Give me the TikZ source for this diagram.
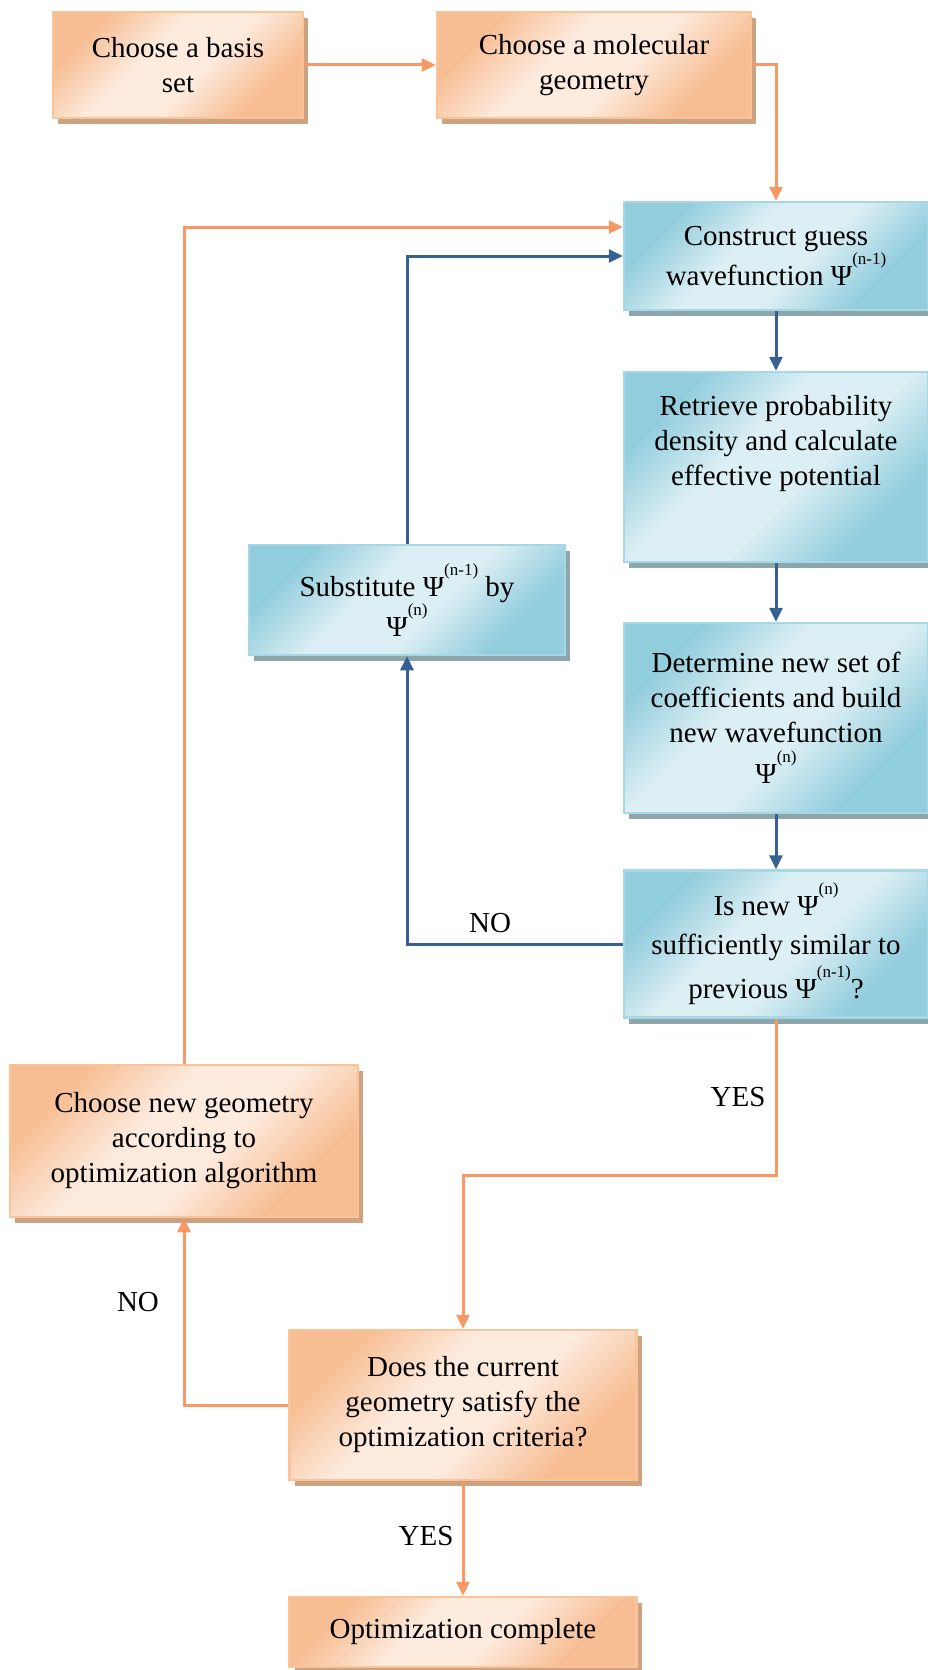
\documentclass[tikz,border=0pt]{standalone}
\usepackage{fontspec}
\setmainfont{Liberation Serif}
\usetikzlibrary{arrows.meta, positioning, shadows}

\definecolor{otop}{RGB}{247,190,148}
\definecolor{omid}{RGB}{253,235,222}
\definecolor{oedge}{RGB}{250,196,152}
\definecolor{oshade}{RGB}{204,162,128}
\definecolor{btop}{RGB}{146,205,221}
\definecolor{bmid}{RGB}{220,239,244}
\definecolor{bedge}{RGB}{165,215,228}
\definecolor{bshade}{RGB}{140,166,172}
\definecolor{oline}{RGB}{249,152,100}
\definecolor{bline}{RGB}{54,96,146}

% soft diagonal wash for the boxes
\pgfdeclareverticalshading{owash}{100bp}{color(0bp)=(otop); color(28bp)=(otop); color(44bp)=(omid); color(58bp)=(omid); color(74bp)=(otop); color(100bp)=(otop)}
\pgfdeclareverticalshading{bwash}{100bp}{color(0bp)=(btop); color(28bp)=(btop); color(44bp)=(bmid); color(58bp)=(bmid); color(74bp)=(btop); color(100bp)=(btop)}

% wavefunction with raised superscript
\newcommand{\wfn}[1]{Ψ\raisebox{0.72em}{\fontsize{17}{17}\selectfont(#1)}}

\begin{document}
\begin{tikzpicture}[
    x=1pt, y=-1pt,
    obox/.style={draw=oedge, line width=2.5pt, shading=owash, shading angle=45,
        drop shadow={shadow xshift=5pt, shadow yshift=-6pt, fill=oshade, opacity=1},
        align=center, inner sep=0pt, font=\fontsize{29}{35}\selectfont},
    bbox/.style={draw=bedge, line width=2.5pt, shading=bwash, shading angle=45,
        drop shadow={shadow xshift=5pt, shadow yshift=-6pt, fill=bshade, opacity=1},
        align=center, inner sep=0pt, font=\fontsize{29}{35}\selectfont},
    oarr/.style={-{Triangle[length=14pt, width=13pt]}, line width=3pt, draw=oline},
    barr/.style={-{Triangle[length=14pt, width=13pt]}, line width=3pt, draw=bline},
    lbl/.style={font=\fontsize{29}{35}\selectfont},
]
\useasboundingbox (0,0) rectangle (928,1670);

% Setup (top row)
\node[obox, minimum width=250pt, minimum height=106pt] (basis) at (178,65) {Choose a basis\\set};
\node[obox, minimum width=314pt, minimum height=106pt] (molec) at (594,65) {Choose a molecular\\geometry};

% SCF loop (right column)
\node[bbox, minimum width=304pt, minimum height=108pt] (construct) at (776,256) {Construct guess\\wavefunction \wfn{n-1}};
\node[bbox, minimum width=304pt, minimum height=190pt] (retrieve) at (776,467) {Retrieve probability\\density and calculate\\effective potential\\[18pt]};
\node[bbox, minimum width=304pt, minimum height=190pt] (determine) at (776,718) {Determine new set of\\coefficients and build\\new wavefunction\\[6pt]\wfn{n}};
\node[bbox, minimum width=304pt, minimum height=147pt] (isnew) at (776,944) {Is new \wfn{n}\\[4pt]sufficiently similar to\\[4pt]previous \wfn{n-1}?};
\node[bbox, minimum width=316pt, minimum height=110pt] (subst) at (407,600) {Substitute \wfn{n-1} by\\\wfn{n}};

% Geometry loop (bottom)
\node[obox, minimum width=348pt, minimum height=152pt] (newgeom) at (184,1141) {Choose new geometry\\according to\\optimization algorithm};
\node[obox, minimum width=347pt, minimum height=150pt] (criteria) at (463,1405) {Does the current\\geometry satisfy the\\optimization criteria?};
\node[obox, minimum width=347pt, minimum height=70pt] (done) at (463,1632) {Optimization complete};

\draw[oarr] (basis) -- (molec);
\draw[oarr] (molec.east) -| (construct.north);

\draw[barr] (construct) -- (retrieve);
\draw[barr] (retrieve) -- (determine);
\draw[barr] (determine) -- (isnew);
\draw[barr] (isnew.west) -| (subst.south);
\node[lbl] (no1) at (490,923) {NO};
\draw[barr] (subst.north) |- (construct.west);

\coordinate (yesbend) at (463,1175);
\draw[oarr] (isnew.south) |- (yesbend) -- (criteria.north);
\node[lbl] (yes1) at (738,1097) {YES};

\draw[oarr] (criteria.west) -| (newgeom.south);
\node[lbl] (no2) at (138,1302) {NO};
\draw[oarr] (newgeom.north) |- ([yshift=29pt]construct.west);

\draw[oarr] (criteria) -- (done);
\node[lbl] (yes2) at (426,1536) {YES};

\end{tikzpicture}
\end{document}
